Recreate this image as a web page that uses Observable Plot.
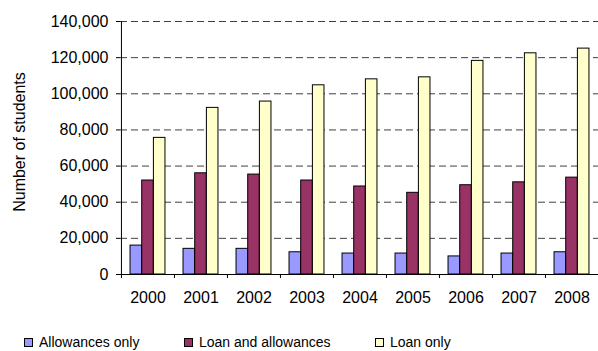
<!DOCTYPE html>
<html>
<head>
<meta charset="utf-8">
<script src="https://cdn.jsdelivr.net/npm/d3@7"></script>
<script src="https://cdn.jsdelivr.net/npm/@observablehq/plot@0.6"></script>
<style>
  html, body { margin: 0; padding: 0; background: #fff; }
  #chart { width: 598px; font-family: "Liberation Sans", Arial, sans-serif; }
  #legend { position: relative; height: 33px; font-size: 14px; color: #000; }
  .item { position: absolute; top: 17px; white-space: nowrap; line-height: 14px; }
  .swatch { display: inline-block; width: 7px; height: 7px; border: 1px solid #000; margin-right: 6px; vertical-align: 0px; }
</style>
</head>
<body>
<div id="chart"></div>
<script>
// Students by type of support, 2000-2008
const years = ["2000", "2001", "2002", "2003", "2004", "2005", "2006", "2007", "2008"];
const allowancesOnly = [16000, 14200, 14200, 12300, 11600, 11600, 10000, 11600, 12300];
const loanAndAllowances = [52000, 56000, 55300, 52000, 48700, 45200, 49400, 51000, 53600];
const loanOnly = [75600, 92200, 95700, 104700, 108000, 109100, 118200, 122400, 125000];
const seriesNames = ["Allowances only", "Loan and allowances", "Loan only"];
const seriesColors = ["#9999ff", "#993366", "#ffffcc"];
const yTicks = [0, 20000, 40000, 60000, 80000, 100000, 120000, 140000];
const yLabel = "Number of students";

const W = 598, H = 318;
const mL = 120, mR = 0, mT = 21, mB = 44;
const bw = (W - mL - mR) / years.length;   // band width per year
const barW = bw * 0.22;                     // each bar in a group of three
const lead = bw * 0.17;                     // gap before the group

const series = [allowancesOnly, loanAndAllowances, loanOnly];
const bars = series.map((vals, k) =>
  Plot.barY(years.map((year, i) => ({year, value: vals[i]})), {
    x: "year",
    y: "value",
    fill: seriesColors[k],
    stroke: "#000",
    strokeWidth: 1,
    insetLeft: lead + k * barW,
    insetRight: bw - lead - (k + 1) * barW
  })
);

const chart = Plot.plot({
  width: W,
  height: H,
  marginLeft: mL,
  marginRight: mR,
  marginTop: mT,
  marginBottom: mB,
  style: {fontFamily: "Liberation Sans, Arial, sans-serif", fontSize: "16px", color: "#000", background: "#fff"},
  x: {type: "band", domain: years, padding: 0},
  y: {domain: [0, 140000]},
  marks: [
    Plot.gridY(yTicks.slice(1), {stroke: "#000", strokeOpacity: 0.75, strokeDasharray: "7,4"}),
    ...bars,
    Plot.ruleY([0], {stroke: "#000"}),
    Plot.ruleX([years[0]], {dx: -bw / 2, stroke: "#000"}),
    Plot.ruleX(years, {dx: -bw / 2, y1: 0, y2: 0, insetBottom: -4, stroke: "#000"}),
    Plot.axisY({ticks: yTicks, tickSize: 4, tickPadding: 8, tickFormat: d3.format(","), label: null, fontSize: 16}),
    Plot.axisX({tickSize: 0, tickPadding: 17, label: null, fontSize: 16}),
    Plot.text([yLabel], {frameAnchor: "left", textAnchor: "middle", rotate: -90, dx: -101, dy: -6, fontSize: 16, fill: "#000"})
  ]
});
document.getElementById("chart").appendChild(chart);

// Legend below the plot
const legend = document.createElement("div");
legend.id = "legend";
const lefts = [24, 184, 375];
seriesNames.forEach((name, k) => {
  const item = document.createElement("div");
  item.className = "item";
  item.style.left = lefts[k] + "px";
  const sw = document.createElement("span");
  sw.className = "swatch";
  sw.style.background = seriesColors[k];
  item.appendChild(sw);
  item.appendChild(document.createTextNode(name));
  legend.appendChild(item);
});
document.getElementById("chart").appendChild(legend);
</script>
</body>
</html>
